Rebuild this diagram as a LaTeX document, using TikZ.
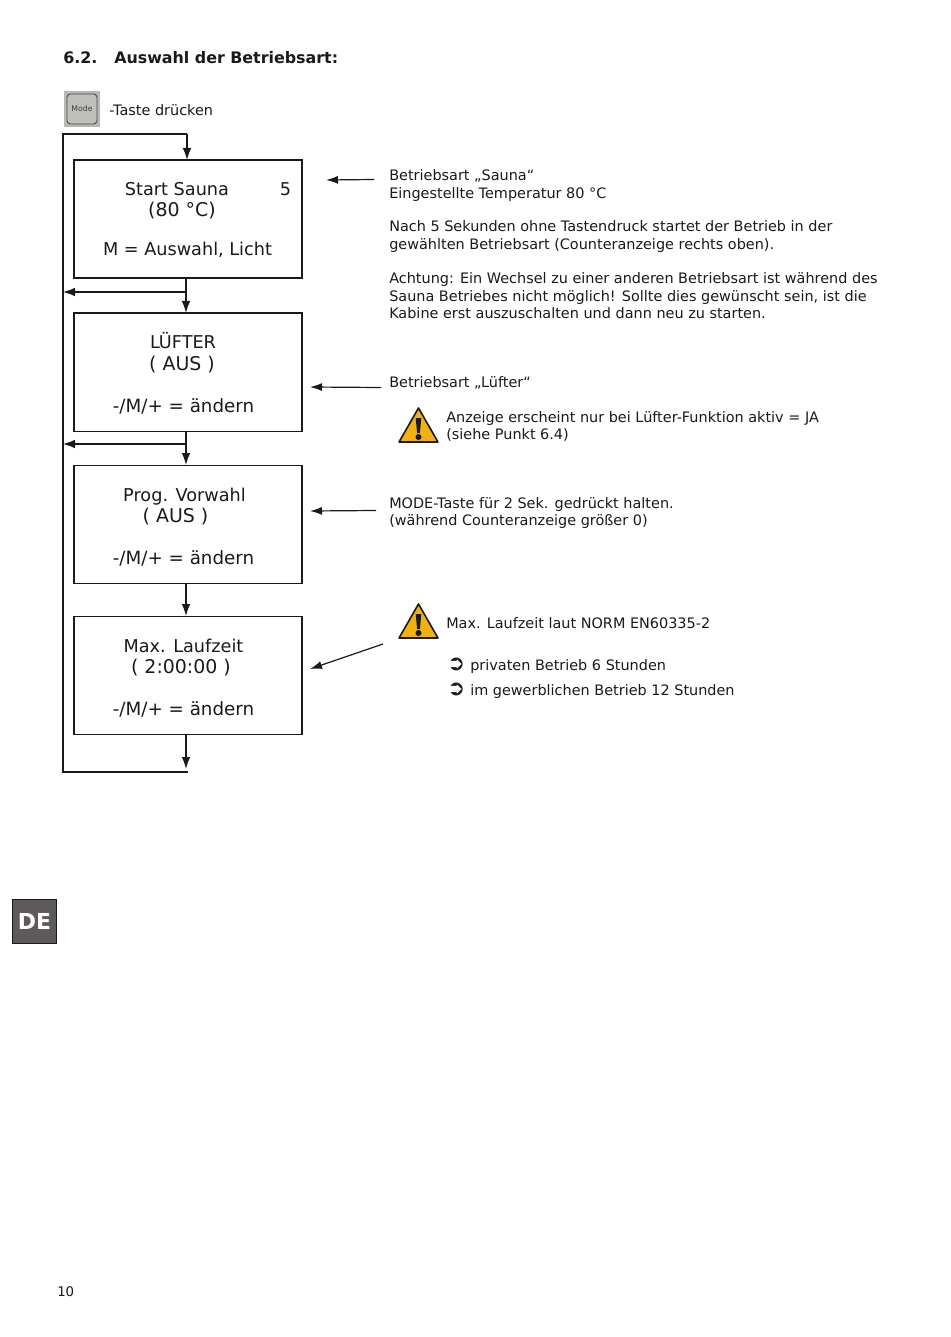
\documentclass[tikz,border=0pt]{standalone}
\usepackage{fontspec}
\setmainfont{DejaVu Sans}
\usetikzlibrary{arrows.meta}
\definecolor{ink}{HTML}{1A1A1A}
\definecolor{warn}{HTML}{F2B111}
\definecolor{tabgrey}{HTML}{5E5A5B}
\definecolor{keygrey}{HTML}{B9B9B4}
\tikzset{
  x=0.75pt,y=-0.75pt,
  flowbox/.style={draw=ink,line width=1.35pt,minimum width=171pt,minimum height=88.5pt,inner sep=0pt,anchor=north west},
  flow/.style={draw=ink,line width=1pt,-{Latex[length=9pt,width=6.5pt]}},
  plain/.style={draw=ink,line width=1pt},
  pointer/.style={draw=ink,line width=.9pt,-{Latex[length=9pt,width=6pt]}},
  boxtext/.style={text=ink,inner sep=0pt,anchor=base,font=\fontsize{13.25}{16}\selectfont},
  boxwide/.style={boxtext,font=\fontsize{13.7}{16}\selectfont},
  boxparen/.style={boxtext,font=\fontsize{14.2}{16}\selectfont},
  note/.style={text=ink,inner sep=0pt,anchor=base west,font=\fontsize{10.82}{12.75}\selectfont,align=left},
}
\newcommand{\warnsign}[2]{%
  \fill[warn,draw=ink,line width=1.2pt,line join=round] (#1-19.5,#2+17)--(#1,#2-17)--(#1+19.5,#2+17)--cycle;
  \fill[ink] (#1-2.8,#2-7)--(#1+2.8,#2-7)--(#1+1.4,#2+8)--(#1-1.4,#2+8)--cycle;
  \fill[ink] (#1,#2+12) circle (3);
}
\begin{document}
\begin{tikzpicture}
\useasboundingbox (0,0) rectangle (950,1337);
\fill[white] (0,0) rectangle (950,1337);

\node[anchor=base west,inner sep=0pt,text=ink,font=\fontsize{11.9}{15}\selectfont\bfseries] (head) at (63,64) {6.2.};
\node[anchor=base west,inner sep=0pt,text=ink,font=\fontsize{11.9}{15}\selectfont\bfseries] (headb) at (114,64) {Auswahl der Betriebsart:};

% key
\node[fill=keygrey,minimum size=26.5pt,inner sep=0pt] (key) at (82,109) {};
\node[draw=ink!80,rounded corners=2.5pt,line width=.7pt,fill=keygrey!90!white,minimum width=22.5pt,minimum height=22.5pt,inner sep=0pt,text=ink!85,font=\fontsize{5.8}{6}\selectfont] (keyin) at (82,109) {Mode};
\node[note] (t0) at (109,115.5) {-Taste drücken};

% boxes
\node[flowbox] (b1) at (73.3,159.5) {};
\node[flowbox] (b2) at (73.3,312.5) {};
\node[flowbox] (b3) at (73.3,464.5) {};
\node[flowbox] (b4) at (73.3,615.5) {};

\node[boxtext] (b1a) at (177,196) {Start Sauna};
\node[boxtext] (b1n) at (285.5,196) {5};
\node[boxparen] (b1b) at (182,217) {(80 °C)};
\node[boxtext] (b1c) at (187.5,255.5) {M = Auswahl, Licht};

\node[boxtext] (b2a) at (183,349) {LÜFTER};
\node[boxparen] (b2b) at (182,370) {( AUS )};
\node[boxwide] (b2c) at (183.5,412) {-/M/+ = ändern};

\node[boxtext] (b3a) at (184.5,501.5) {Prog. Vorwahl};
\node[boxparen] (b3b) at (175.5,522.5) {( AUS )};
\node[boxwide] (b3c) at (183.5,564.5) {-/M/+ = ändern};

\node[boxtext] (b4a) at (183.5,652.5) {Max. Laufzeit};
\node[boxparen] (b4b) at (181,673.5) {( 2:00:00 )};
\node[boxwide] (b4c) at (183.5,715.5) {-/M/+ = ändern};

% flow coordinates
\coordinate (topL) at (63,134);
\coordinate (topR) at (187,134);
\coordinate (botL) at (63,772);
\coordinate (botR) at (188,772);
\coordinate (j1) at (186,292);
\coordinate (j1L) at (63,292);
\coordinate (j2) at (186,444);
\coordinate (j2L) at (63,444);
\coordinate (b1s) at (186,278);
\coordinate (b2n) at (186,313);
\coordinate (b2s) at (186,431);
\coordinate (b3n) at (186,465);
\coordinate (b3s) at (186,583);
\coordinate (b4n) at (186,616);
\coordinate (b4s) at (186,735);
\coordinate (end) at (186,769);
\coordinate (b1n0) at (187,160);

\draw[plain,line join=miter] (botR) -- (botL) -- (topL) -- (topR);
\draw[flow] (topR) -- (b1n0);
\draw[flow] (b1s) -- (b2n);
\draw[flow] (j1) -- (j1L);
\draw[flow] (b2s) -- (b3n);
\draw[flow] (j2) -- (j2L);
\draw[flow] (b3s) -- (b4n);
\draw[flow] (b4s) -- (end);

% notes
\node[note] (n1) at (389,181) {Betriebsart „Sauna“};
\node[note] (n2) at (389,198.5) {Eingestellte Temperatur 80 °C};
\node[note] (n3) at (389,232) {Nach 5 Sekunden ohne Tastendruck startet der Betrieb in der};
\node[note] (n4) at (389,249.5) {gewählten Betriebsart (Counteranzeige rechts oben).};
\node[note] (n5) at (389,284) {Achtung: Ein Wechsel zu einer anderen Betriebsart ist während des};
\node[note] (n6) at (389,301) {Sauna Betriebes nicht möglich! Sollte dies gewünscht sein, ist die};
\node[note] (n7) at (389,318.5) {Kabine erst auszuschalten und dann neu zu starten.};
\node[note] (n8) at (389,387) {Betriebsart „Lüfter“};
\node[note] (n9) at (446,422) {Anzeige erscheint nur bei Lüfter-Funktion aktiv = JA};
\node[note] (n10) at (446,439) {(siehe Punkt 6.4)};
\node[note] (n11) at (389,508) {MODE-Taste für 2 Sek. gedrückt halten.};
\node[note] (n12) at (389,525) {(während Counteranzeige größer 0)};
\node[note] (n13) at (446,628) {Max. Laufzeit laut NORM EN60335-2};
\node[note] (n14) at (447,670) {\makebox[17.25pt][l]{\fontsize{16}{16}\selectfont\bfseries ➲}privaten Betrieb 6 Stunden};
\node[note] (n15) at (447,695) {\makebox[17.25pt][l]{\fontsize{16}{16}\selectfont\bfseries ➲}im gewerblichen Betrieb 12 Stunden};

\coordinate (p1s) at (374,179.5); \coordinate (p1e) at (326,180);
\coordinate (p2s) at (381,387.5); \coordinate (p2e) at (310,387);
\coordinate (p3s) at (376,510.5); \coordinate (p3e) at (310,511);
\coordinate (p4s) at (383,644); \coordinate (p4e) at (310,669);
\draw[pointer] (p1s) -- (p1e);
\draw[pointer] (p2s) -- (p2e);
\draw[pointer] (p3s) -- (p3e);
\draw[pointer] (p4s) -- (p4e);

\warnsign{418.5}{425}
\warnsign{418.5}{621}

% tab
\node[draw=ink,fill=tabgrey,line width=.7pt,minimum size=33pt,inner sep=0pt,text=white,font=\fontsize{16.5}{18}\selectfont\bfseries] (tab) at (34.5,921) {DE};

\node[anchor=base west,inner sep=0pt,text=ink,font=\fontsize{10}{12}\selectfont] (pg) at (57,1296) {10};
\end{tikzpicture}
\end{document}
